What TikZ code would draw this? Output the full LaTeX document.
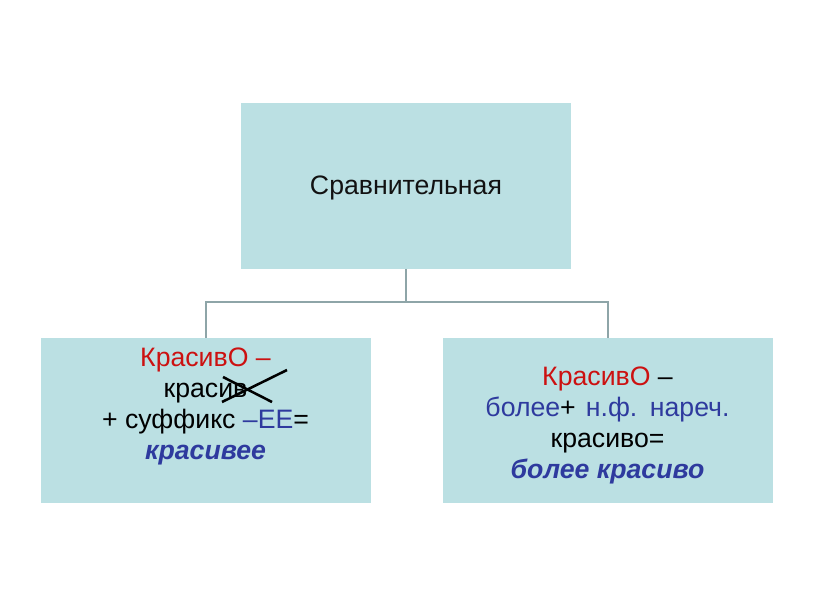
\documentclass[tikz,border=0pt]{standalone}
\usepackage{fontspec}
\setmainfont{Liberation Sans}
\definecolor{boxfill}{HTML}{BBE0E3}
\definecolor{connc}{HTML}{8EA5A8}
\definecolor{redt}{HTML}{CC1111}
\definecolor{bluet}{HTML}{2E3A9E}
\tikzset{
  box/.style={fill=boxfill, draw=none, minimum width=247.5pt, minimum height=123.75pt, inner sep=0pt},
  conn/.style={draw=connc, line width=1.5pt},
  txt/.style={align=center, font=\fontsize{20}{23.25}\selectfont, inner sep=0pt},
  cross/.style={draw=black, line width=1.9pt}
}
\begin{document}
\begin{tikzpicture}[x=0.75pt,y=-0.75pt]
\useasboundingbox (0,0) rectangle (816,613);
\node[box] (top) at (406,186) {};
\node[font=\fontsize{20}{23}\selectfont, text=black!93] (toptext) at (406,188) {Сравнительная};
\node[box] (left) at (205.5,420.5) {};
\node[box] (right) at (607.5,420.5) {};
\coordinate (j) at (406,302);
\draw[conn] (top.south) -- (j);
\draw[conn] (left.north) -- (left.north |- j) -- (right.north |- j) -- (right.north);
\node[txt] (lefttext) at (205.5,406) {\textcolor{redt}{КрасивО –}\\
красив\hspace*{8pt}\\
+ суффикс \textcolor{bluet}{–ЕЕ}=\\
\textcolor{bluet}{\bfseries\itshape красивее}};
\node[txt] (righttext) at (607.5,425) {\textcolor{redt}{КрасивО} –\\
\textcolor{bluet}{более}+\hspace{2pt} \textcolor{bluet}{н.ф.\hspace{2pt} нареч.}\\
красиво=\\
\textcolor{bluet}{\bfseries\itshape более красиво}};
\coordinate (c1a) at (222,402);
\coordinate (c1b) at (287,370);
\coordinate (c2a) at (223,377);
\coordinate (c2b) at (272,402);
\draw[cross] (c1a) -- (c1b);
\draw[cross] (c2a) -- (c2b);
\end{tikzpicture}
\end{document}
